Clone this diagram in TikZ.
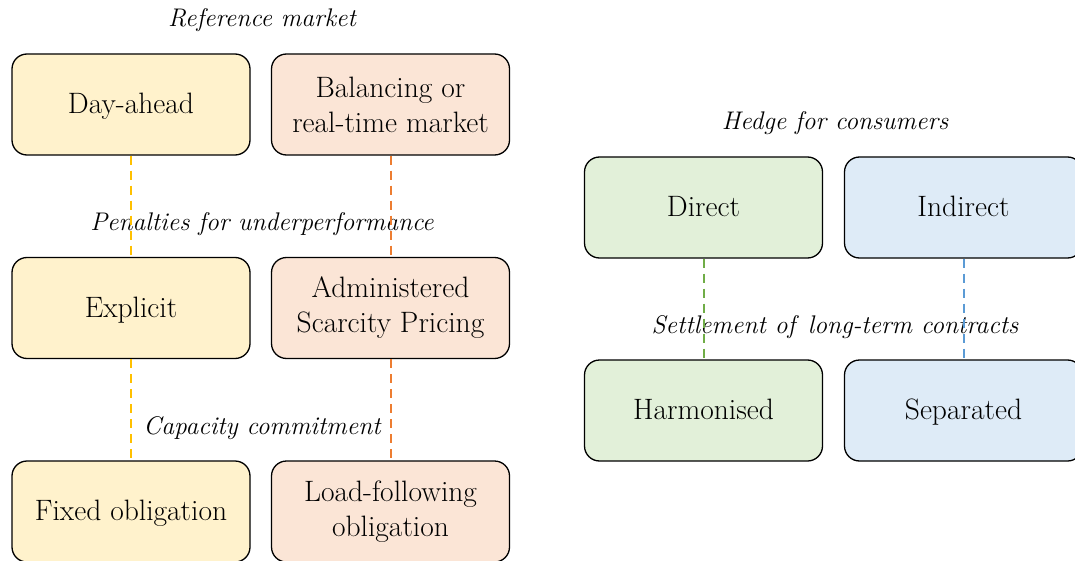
\documentclass[tikz,border=0pt]{standalone}
\usepackage{fontspec}
\definecolor{yfill}{HTML}{FFF2CC}
\definecolor{ofill}{HTML}{FBE5D6}
\definecolor{gfill}{HTML}{E2F0D9}
\definecolor{bfill}{HTML}{DEEBF7}
\definecolor{yline}{HTML}{FFC000}
\definecolor{oline}{HTML}{ED7D31}
\definecolor{gline}{HTML}{70AD47}
\definecolor{bline}{HTML}{5B9BD5}
\newcommand\mystrutx{\rule[-8.5pt]{0pt}{35pt}}
\tikzset{
  box/.style={draw=black, line width=1.3pt, rounded corners=15pt, minimum width=238pt, minimum height=101pt, inner sep=0pt, align=center, font=\fontsize{29.5}{35}\selectfont},
  lab/.style={inner sep=0pt, font=\fontsize{25.5}{30}\selectfont\itshape},
  conn/.style={line width=2pt, dash pattern=on 9pt off 6pt},
}
\begin{document}
\begin{tikzpicture}[x=1pt,y=-1pt]
\useasboundingbox (0,0) rectangle (1075,561);
% labels
\node[lab] (l1) at (262,20) {Reference market};
\node[lab] (l2) at (262,224) {Penalties for underperformance};
\node[lab] (l3) at (262,428) {Capacity commitment};
\node[lab] (l4) at (835,123) {Hedge for consumers};
\node[lab] (l5) at (835,327) {Settlement of\enspace long-term contracts};
% boxes
\node[box, fill=yfill] (a1) at (131,104.5) {\mystrutx Day-ahead};
\node[box, fill=ofill] (a2) at (390.5,104.5) {Balancing or\\real-time market};
\node[box, fill=yfill] (b1) at (131,308) {\mystrutx Explicit};
\node[box, fill=ofill] (b2) at (390.5,308) {Administered\\Scarcity Pricing};
\node[box, fill=yfill] (c1) at (131,511.5) {\mystrutx Fixed obligation};
\node[box, fill=ofill] (c2) at (390.5,511.5) {Load-following\\obligation};
\node[box, fill=gfill] (d) at (703.5,207.5) {\mystrutx Direct};
\node[box, fill=bfill] (i) at (963.5,207.5) {\mystrutx Indirect};
\node[box, fill=gfill] (h) at (703.5,410.5) {\mystrutx Harmonised};
\node[box, fill=bfill] (s) at (963.5,410.5) {\mystrutx Separated};
% connectors
\draw[conn, yline] (a1.south) -- (b1.north);
\draw[conn, yline] (b1.south) -- (c1.north);
\draw[conn, oline] (a2.south) -- (b2.north);
\draw[conn, oline] (b2.south) -- (c2.north);
\draw[conn, gline] (d.south) -- (h.north);
\draw[conn, bline] (i.south) -- (s.north);
\end{tikzpicture}
\end{document}
